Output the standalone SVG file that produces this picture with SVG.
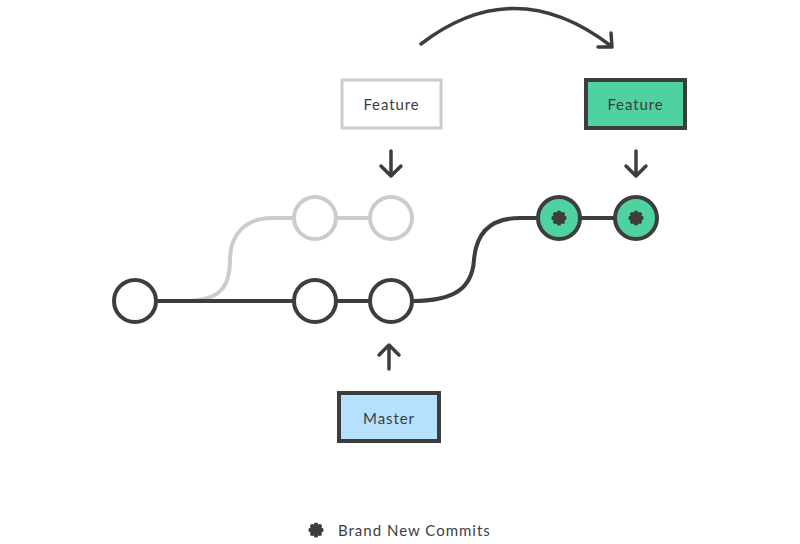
<svg xmlns="http://www.w3.org/2000/svg" width="800" height="544" viewBox="0 0 800 544">
<defs>
<style>
.dk{fill:none;stroke:#3d3d3d;stroke-width:4}
.gr{fill:none;stroke:#cccccc;stroke-width:4}
.cw{fill:#ffffff;stroke:#3d3d3d;stroke-width:4}
.cg{fill:#ffffff;stroke:#cccccc;stroke-width:4}
.cn{fill:#4fd1a0;stroke:#3d3d3d;stroke-width:4}
.lbl{font-family:Lato,"Liberation Sans",sans-serif;font-size:15px;fill:#3d3d3d;text-anchor:middle;letter-spacing:0.9px}
.arr{fill:none;stroke:#3d3d3d;stroke-width:3.5;stroke-linecap:round;stroke-linejoin:round}
</style>
<g id="star">
<circle r="4.6" fill="#3d3d3d"/>
<g fill="#3d3d3d">
<circle cx="0" cy="-5.4" r="2.2"/><circle cx="0" cy="5.4" r="2.2"/><circle cx="-5.4" cy="0" r="2.2"/><circle cx="5.4" cy="0" r="2.2"/>
<circle cx="3.8" cy="3.8" r="2.2"/><circle cx="-3.8" cy="3.8" r="2.2"/><circle cx="3.8" cy="-3.8" r="2.2"/><circle cx="-3.8" cy="-3.8" r="2.2"/>
</g>
</g>
</defs>
<rect width="800" height="544" fill="#ffffff"/>
<g id="connectors">
<path class="gr" d="M185 301 C222 301 230 285 230 260 C230 236 244 218 272 218 L296 218"/>
<line class="gr" x1="336" y1="218" x2="370" y2="218"/>
<line class="dk" x1="157" y1="301" x2="294" y2="301"/>
<line class="dk" x1="336" y1="301" x2="370" y2="301"/>
<path class="dk" d="M412 301 C455 301 472 288 474 260 C476 234 490 218 520 218 L538 218"/>
<line class="dk" x1="580" y1="218" x2="615" y2="218"/>
<path class="arr" d="M421 44 Q515 -28 611 46"/>
<path class="arr" d="M611 33 L612 47 L598 47"/>
<path class="arr" d="M391 151 L391 176 M381 166 L391 176 L401 166"/>
<path class="arr" d="M636 151 L636 176 M626 166 L636 176 L646 166"/>
<path class="arr" d="M389 369 L389 345 M379 355 L389 345 L399 355"/>
</g>
<g id="commit-c1"><circle class="cw" cx="135" cy="301" r="21"/></g>
<g id="commit-c2"><circle class="cw" cx="315" cy="301" r="21"/></g>
<g id="commit-c3"><circle class="cw" cx="391" cy="301" r="21"/></g>
<g id="old-commit-1"><circle class="cg" cx="315" cy="218" r="21"/></g>
<g id="old-commit-2"><circle class="cg" cx="391" cy="218" r="21"/></g>
<g id="new-commit-1"><circle class="cn" cx="559" cy="218" r="21"/><use href="#star" x="559" y="218"/></g>
<g id="new-commit-2"><circle class="cn" cx="636" cy="218" r="21"/><use href="#star" x="636" y="218"/></g>
<g id="feature-old"><rect x="342" y="80" width="99" height="48" fill="#ffffff" stroke="#cccccc" stroke-width="3"/><text class="lbl" x="391.5" y="109.5">Feature</text></g>
<g id="feature-new"><rect x="586" y="80" width="99" height="48" fill="#4fd1a0" stroke="#3d3d3d" stroke-width="4"/><text class="lbl" x="635.5" y="109.5">Feature</text></g>
<g id="master"><rect x="339" y="393" width="100" height="48" fill="#b5e1fc" stroke="#3d3d3d" stroke-width="4"/><text class="lbl" x="389" y="423.5">Master</text></g>
<g id="legend"><use href="#star" x="316" y="530"/><text x="338" y="535.5" font-family="Lato,'Liberation Sans',sans-serif" font-size="15" fill="#3d3d3d" letter-spacing="1">Brand New Commits</text></g>
</svg>
